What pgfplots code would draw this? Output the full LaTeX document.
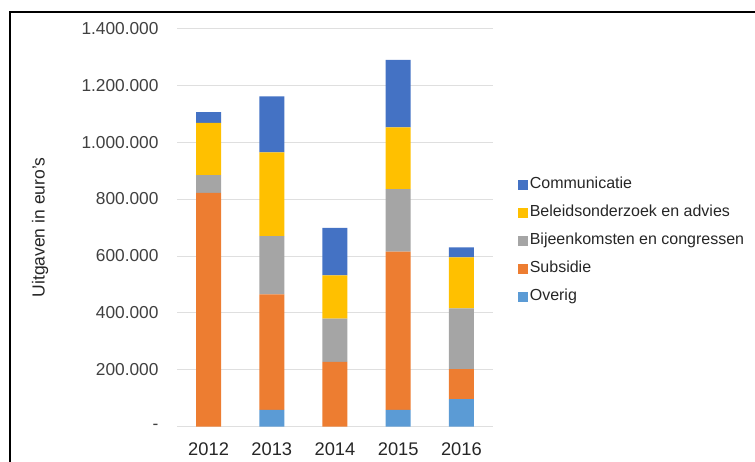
\documentclass[border=0pt]{standalone}
\usepackage{fontspec}
\setmainfont{Liberation Sans}
\usepackage{pgfplots}
\pgfplotsset{compat=1.18}
\usepackage{pgfplotstable}

\definecolor{comm}{HTML}{4472C4}
\definecolor{beleid}{HTML}{FFC000}
\definecolor{bijeen}{HTML}{A5A5A5}
\definecolor{subsidie}{HTML}{ED7D31}
\definecolor{overig}{HTML}{5B9BD5}
\definecolor{txt}{HTML}{404040}

% uitgaven per jaar, in euro
\pgfplotstableread{
idx overig subsidie bijeen beleid comm
0   0      822000   62000  184000 37000
1   59000  406000   205000 294000 197000
2   0      228000   152000 152000 167000
3   59000  556000   220000 217000 237000
4   97000  105000   214000 179000 35000
}\uitgaven

\begin{document}
\begin{tikzpicture}
\useasboundingbox (0pt,0pt) rectangle (755pt,461pt);
\draw[line width=2.5pt] (10pt,-10pt) -- (10pt,449pt) -- (770pt,449pt);
\begin{axis}[
    at={(177pt,34.3pt)}, anchor=south west,
    scale only axis,
    width=316pt, height=398.4pt,
    ybar stacked,
    bar width=25pt,
    xmin=-0.5, xmax=4.5,
    ymin=0, ymax=1400000,
    scaled y ticks=false,
    xtick=data,
    xticklabels={2012,2013,2014,2015,2016},
    ytick={0,200000,400000,600000,800000,1000000,1200000,1400000},
    yticklabels={-\hspace{7pt},200.000,400.000,600.000,800.000,1.000.000,1.200.000,1.400.000},
    major tick length=0pt,
    axis line style={draw=none},
    ymajorgrids,
    grid style={gray!25, line width=0.8pt},
    yticklabel style={font=\fontsize{17.3}{18}\selectfont, text=txt, xshift=-15pt},
    xticklabel style={font=\fontsize{18.3}{19}\selectfont, text=black!85, yshift=-12pt},
    ylabel={Uitgaven in euro's},
    ylabel style={font=\fontsize{17.5}{18}\selectfont, text=black!85, at={(axis description cs:-0.4335,0.5)}, anchor=center, rotate=0},
    legend style={
        at={(axis description cs:1.07,0.637)}, anchor=north west,
        draw=none, fill=none,
        font=\fontsize{16}{17}\selectfont, text=black!85,
        nodes={inner sep=1.5pt, text height=12pt, text depth=4pt},
        row sep=9pt,
    },
    legend cell align=left,
    reverse legend,
    legend image code/.code={\fill[#1] (0pt,-5pt) rectangle (10pt,5pt);},
]
\addplot[fill=overig, draw=none] table[x=idx, y=overig] {\uitgaven};
\addplot[fill=subsidie, draw=none] table[x=idx, y=subsidie] {\uitgaven};
\addplot[fill=bijeen, draw=none] table[x=idx, y=bijeen] {\uitgaven};
\addplot[fill=beleid, draw=none] table[x=idx, y=beleid] {\uitgaven};
\addplot[fill=comm, draw=none] table[x=idx, y=comm] {\uitgaven};
\legend{Overig, Subsidie, Bijeenkomsten en congressen, Beleidsonderzoek en advies, Communicatie}
\end{axis}
\end{tikzpicture}
\end{document}
